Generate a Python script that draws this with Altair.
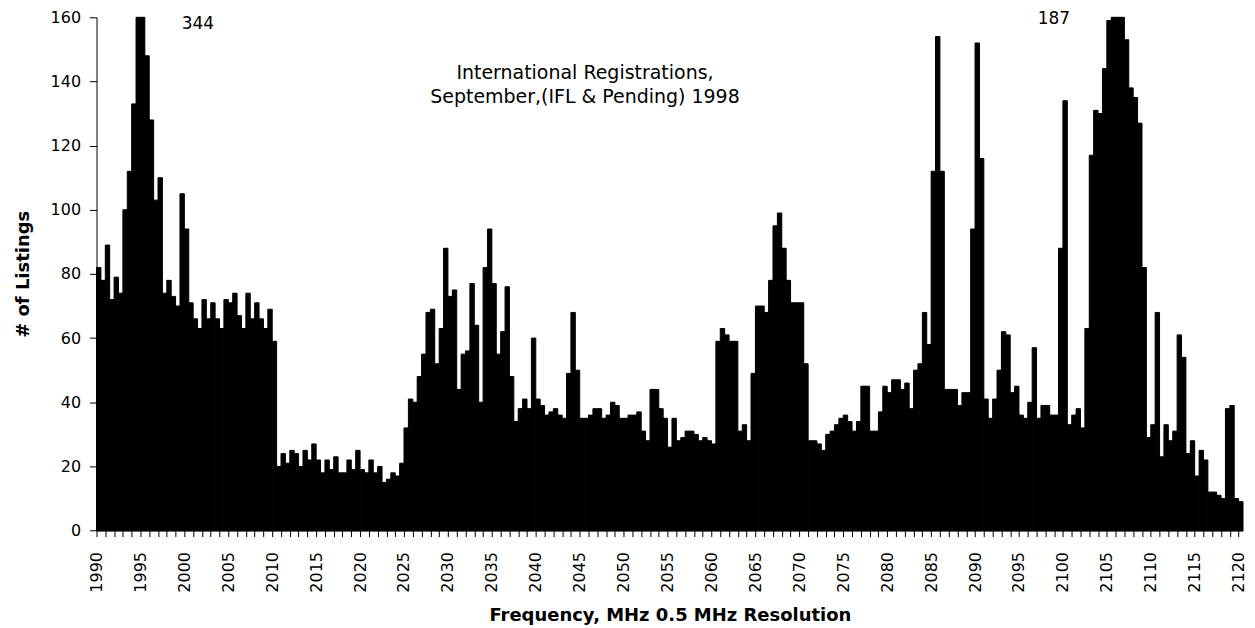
import altair as alt
import pandas as pd

# ---- data (0.5 MHz bins starting at 1990.0 MHz) ----
start_mhz = 1990.0
step_mhz = 0.5
listings = [
    82, 78, 89, 72, 79, 74, 100, 112, 133, 170,      # 1990.0 - 1994.5
    344, 148, 128, 103, 110, 74, 78, 73, 70, 105,    # 1995.0 - 1999.5
    94, 71, 66, 63, 72, 66, 71, 66, 63, 72,          # 2000.0 - 2004.5
    71, 74, 67, 63, 74, 66, 71, 66, 63, 69,          # 2005.0 - 2009.5
    59, 20, 24, 21, 25, 24, 20, 25, 22, 27,          # 2010.0 - 2014.5
    22, 18, 22, 19, 23, 18, 18, 22, 19, 25,          # 2015.0 - 2019.5
    19, 18, 22, 18, 20, 15, 16, 18, 17, 21,          # 2020.0 - 2024.5
    32, 41, 40, 48, 55, 68, 69, 52, 63, 88,          # 2025.0 - 2029.5
    73, 75, 44, 55, 56, 77, 64, 40, 82, 94,          # 2030.0 - 2034.5
    77, 55, 62, 76, 48, 34, 38, 41, 38, 60,          # 2035.0 - 2039.5
    41, 39, 36, 37, 38, 36, 35, 49, 68, 50,          # 2040.0 - 2044.5
    35, 35, 36, 38, 38, 35, 36, 40, 39, 35,          # 2045.0 - 2049.5
    35, 36, 36, 37, 31, 28, 44, 44, 38, 35,          # 2050.0 - 2054.5
    26, 35, 28, 29, 31, 31, 30, 28, 29, 28,          # 2055.0 - 2059.5
    27, 59, 63, 61, 59, 59, 31, 33, 28, 49,          # 2060.0 - 2064.5
    70, 70, 68, 78, 95, 99, 88, 78, 71, 71,          # 2065.0 - 2069.5
    71, 52, 28, 28, 27, 25, 30, 31, 33, 35,          # 2070.0 - 2074.5
    36, 34, 31, 34, 45, 45, 31, 31, 37, 45,          # 2075.0 - 2079.5
    43, 47, 47, 44, 46, 38, 50, 52, 68, 58,          # 2080.0 - 2084.5
    112, 154, 112, 44, 44, 44, 39, 43, 43, 94,       # 2085.0 - 2089.5
    152, 116, 41, 35, 41, 50, 62, 61, 43, 45,        # 2090.0 - 2094.5
    36, 35, 40, 57, 35, 39, 39, 36, 36, 88,          # 2095.0 - 2099.5
    134, 33, 36, 38, 32, 63, 117, 131, 130, 144,     # 2100.0 - 2104.5
    159, 161, 187, 165, 153, 138, 135, 127, 82, 29,  # 2105.0 - 2109.5
    33, 68, 23, 33, 28, 31, 61, 54, 24, 28,          # 2110.0 - 2114.5
    17, 25, 22, 12, 12, 11, 10, 38, 39, 10,          # 2115.0 - 2119.5
    9,                                               # 2120.0
]
freq_start = [start_mhz + step_mhz * i for i in range(len(listings))]

y_ticks = [0, 20, 40, 60, 80, 100, 120, 140, 160]
x_ticks = list(range(1990, 2121))

notes_text = ["344", "187"]
notes_x = [2001.54, 2098.97]
notes_y = [156.4, 158.0]

title_lines = ["International Registrations,", "September,(IFL & Pending) 1998"]
title_x = [2045.6, 2045.6]
title_y = [140.8, 133.3]

bars_df = pd.DataFrame({
    "f0": freq_start,
    "f1": [f + step_mhz for f in freq_start],
    "n": listings,
})
notes_df = pd.DataFrame({"x": notes_x, "y": notes_y, "t": notes_text})
title_df = pd.DataFrame({"x": title_x, "y": title_y, "t": title_lines})

FONT = "DejaVu Sans"

xscale = alt.Scale(domain=[1990, 2120.5], nice=False, zero=False)
yscale = alt.Scale(domain=[0, 160], nice=False, clamp=True)

x_axis = alt.Axis(
    values=x_ticks,
    format="d",
    labelExpr="datum.value % 5 == 0 ? datum.label : ''",
    labelAngle=270,
    labelAlign="right",
    labelBaseline="middle",
    labelFontSize=16,
    labelPadding=15,
    labelOverlap=False,
    labelBound=False,
    labelFlush=False,
    tickSize=6,
    grid=False,
    title="Frequency, MHz 0.5 MHz Resolution",
    titleFontSize=18,
    titleFontWeight="bold",
    titleX=574.5,
    titleY=90,
    titleAlign="center",
    titleBaseline="alphabetic",
)
y_axis = alt.Axis(
    values=y_ticks,
    format="d",
    labelFontSize=16,
    labelPadding=9,
    tickSize=7,
    grid=False,
    title="# of Listings",
    titleFontSize=18,
    titleFontWeight="bold",
    titleX=-68,
    titleY=257,
    titleAlign="center",
    titleBaseline="alphabetic",
    titleAngle=270,
)

bars = alt.Chart(bars_df).mark_bar(
    color="black", stroke="black", strokeWidth=1
).encode(
    x=alt.X("f0:Q", scale=xscale, axis=x_axis),
    x2="f1:Q",
    y=alt.Y("n:Q", scale=yscale, axis=y_axis),
    y2=alt.datum(0),
)

notes = alt.Chart(notes_df).mark_text(
    font=FONT, fontSize=17, color="black", align="center", baseline="alphabetic"
).encode(
    x=alt.X("x:Q", scale=xscale, axis=x_axis),
    y=alt.Y("y:Q", scale=yscale, axis=y_axis),
    text="t:N",
)

title = alt.Chart(title_df).mark_text(
    font=FONT, fontSize=19, color="black", align="center", baseline="alphabetic"
).encode(
    x=alt.X("x:Q", scale=xscale, axis=x_axis),
    y=alt.Y("y:Q", scale=yscale, axis=y_axis),
    text="t:N",
)

chart = alt.layer(bars, notes, title).properties(
    width=1148.8,
    height=514.3,
    autosize=alt.AutoSizeParams(type="none"),
    padding={"left": 88.7, "top": 8.7, "right": 4, "bottom": 95},
).configure_view(
    stroke=None
).configure_axis(
    labelFont=FONT,
    titleFont=FONT,
    labelColor="black",
    titleColor="black",
    domainColor="black",
    tickColor="black",
    domainWidth=1,
    tickWidth=1,
)

chart.save("out.html", embed_options={"renderer": "svg", "actions": False})
